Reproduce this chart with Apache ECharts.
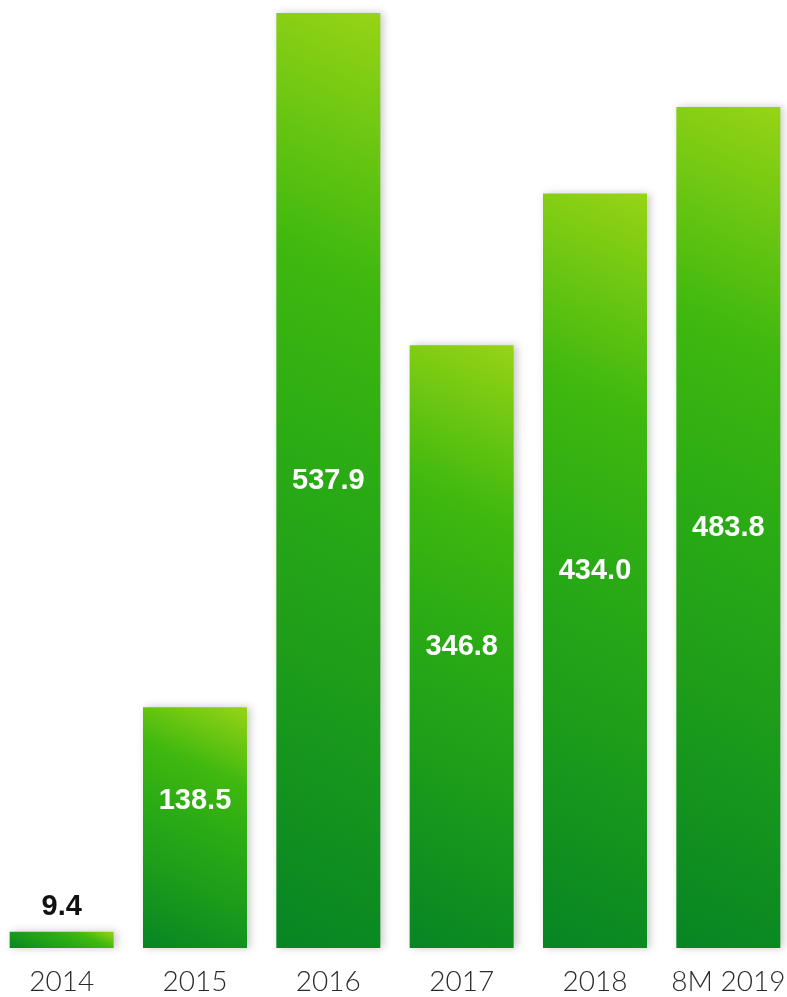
<!DOCTYPE html>
<html>
<head>
<meta charset="utf-8">
<script src="https://cdn.jsdelivr.net/npm/echarts@6/dist/echarts.min.js"></script>
<style>
    html, body { margin: 0; padding: 0; background: #fff; overflow: hidden; }
    #chart { width: 800px; height: 997px; margin-left: -5px; }
</style>
</head>
<body>
<div id="chart"></div>
<script>
var years = ['2014', '2015', '2016', '2017', '2018', '8M 2019'];
var values = [9.4, 138.5, 537.9, 346.8, 434.0, 483.8];

var BAR_W = 104;
var ANGLE = 24 * Math.PI / 180;   // css-like gradient angle
var stops = [
    { offset: 0, color: '#078524' },
    { offset: 0.33, color: '#1f9f19' },
    { offset: 0.5, color: '#29aa15' },
    { offset: 0.72, color: '#3fb80f' },
    { offset: 1, color: '#97d415' }
];

// gradient from bottom-left corner to top-right corner at a fixed angle,
// like css linear-gradient(24deg, ...) sized to each bar
function barGradient(h) {
    var w = BAR_W;
    var s = Math.sin(ANGLE), c = Math.cos(ANGLE);
    var half = (w * s + h * c) / 2;
    return new echarts.graphic.LinearGradient(
        0.5 - half * s / w, 0.5 + half * c / h,
        0.5 + half * s / w, 0.5 - half * c / h,
        stops
    );
}

function buildData(pxPerUnit) {
    return values.map(function (v) {
        var item = { value: v };
        if (pxPerUnit) {
            item.itemStyle = { color: barGradient(Math.max(v * pxPerUnit, 1)) };
        }
        if (v < 50) {
            item.label = { position: 'top', distance: 10, color: '#111' };
        } else if (v < 200) {
            item.label = { offset: [0, -27] };
        }
        return item;
    });
}

var chart = echarts.init(document.getElementById('chart'));
chart.setOption({
    animation: false,
    grid: {
        left: 0,
        right: 0,
        top: 13,
        bottom: 49
    },
    xAxis: {
        type: 'category',
        data: years,
        axisLine: { show: false },
        axisTick: { show: false },
        axisLabel: {
            interval: 0,
            margin: 20,
            fontFamily: 'Lato',
            fontWeight: 300,
            fontSize: 28,
            color: '#2a2a2a'
        }
    },
    yAxis: {
        type: 'value',
        min: 0,
        max: 537.9,
        show: false,
        splitLine: { show: false }
    },
    series: [{
        type: 'bar',
        data: buildData(null),
        barWidth: BAR_W,
        itemStyle: {
            color: '#29aa15',
            shadowColor: 'rgba(0,0,0,0.22)',
            shadowBlur: 8,
            shadowOffsetX: 3,
            shadowOffsetY: 0
        },
        label: {
            show: true,
            position: 'inside',
            formatter: function (p) { return p.value.toFixed(1); },
            fontFamily: '"Liberation Sans", Arial, sans-serif',
            fontWeight: 'bold',
            fontSize: 29,
            color: '#fff'
        }
    }]
});

var y0 = chart.convertToPixel({ yAxisIndex: 0 }, 0);
var y1 = chart.convertToPixel({ yAxisIndex: 0 }, 100);
var pxPerUnit = (y0 - y1) / 100;
chart.setOption({ series: [{ data: buildData(pxPerUnit) }] });
</script>
</body>
</html>
